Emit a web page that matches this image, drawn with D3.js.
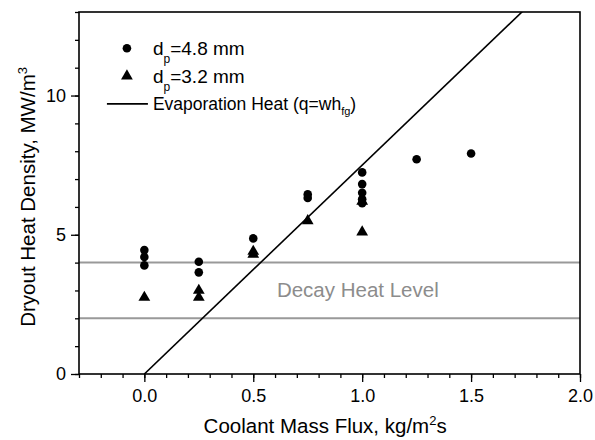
<!DOCTYPE html>
<html>
<head>
<meta charset="utf-8">
<script src="https://cdn.jsdelivr.net/npm/d3@7"></script>
<style>
  body { margin: 0; background: #fff; }
  svg { display: block; font-family: "Liberation Sans", Arial, sans-serif; }
</style>
</head>
<body>
<div id="chart"></div>
<script>
// Data
const flux48 = [0, 0, 0, 0.25, 0.25, 0.5, 0.75, 0.75, 1.0, 1.0, 1.0, 1.0, 1.0, 1.25, 1.5];
const heat48 = [4.45, 4.2, 3.9, 4.03, 3.65, 4.87, 6.45, 6.32, 7.24, 6.82, 6.51, 6.28, 6.13, 7.71, 7.92];
const flux32 = [0, 0.25, 0.25, 0.5, 0.5, 0.75, 1.0, 1.0];
const heat32 = [2.75, 3.0, 2.75, 4.4, 4.3, 5.5, 5.1, 6.2];
const evapFlux = [0, 2.0];
const evapHeat = [0, 15.0];
const decayLevels = [2, 4];
const xTicks = [0.0, 0.5, 1.0, 1.5, 2.0];
const yTicks = [0, 5, 10];

const width = 595, height = 440;
const margin = { top: 12, right: 15, bottom: 66, left: 79 };
const innerW = width - margin.left - margin.right;
const innerH = height - margin.top - margin.bottom;

const svg = d3.select('#chart').append('svg')
    .attr('width', width)
    .attr('height', height);

const g = svg.append('g')
    .attr('transform', `translate(${margin.left},${margin.top})`);

const x = d3.scaleLinear().domain([-0.3, 2.0]).range([0, innerW]);
const y = d3.scaleLinear().domain([0, 13]).range([innerH, 0]);

// clip for lines
g.append('clipPath').attr('id', 'clip')
    .append('rect').attr('width', innerW).attr('height', innerH);

// decay heat band lines
g.selectAll('.decay')
    .data(decayLevels)
    .enter()
    .append('line')
    .attr('class', 'decay')
    .attr('x1', 0).attr('x2', innerW)
    .attr('y1', d => y(d)).attr('y2', d => y(d))
    .attr('stroke', '#999')
    .attr('stroke-width', 2);

g.append('text')
    .attr('x', x(0.98))
    .attr('y', y(3.02))
    .attr('dy', '0.35em')
    .attr('text-anchor', 'middle')
    .attr('fill', '#8c8c8c')
    .attr('font-size', 20.5)
    .text('Decay Heat Level');

// evaporation line
const evap = evapFlux.map((f, i) => [f, evapHeat[i]]);
g.append('path')
    .datum(evap)
    .attr('clip-path', 'url(#clip)')
    .attr('d', d3.line().x(d => x(d[0])).y(d => y(d[1])))
    .attr('stroke', '#000')
    .attr('stroke-width', 1.6)
    .attr('fill', 'none');

// axes: minor ticks
const xMinor = d3.range(-3, 21).map(i => i / 10);
const yMinor = d3.range(0, 14);

g.append('g')
    .attr('transform', `translate(0,${innerH})`)
    .call(d3.axisBottom(x).tickValues(xMinor).tickSize(4).tickFormat(''))
    .call(a => a.select('.domain').remove());

g.append('g')
    .call(d3.axisLeft(y).tickValues(yMinor).tickSize(4).tickFormat(''))
    .call(a => a.select('.domain').remove());

const xAxis = g.append('g')
    .attr('transform', `translate(0,${innerH})`)
    .call(d3.axisBottom(x).tickValues(xTicks).tickSize(8).tickPadding(7).tickFormat(d3.format('.1f')));
xAxis.select('.domain').remove();

const yAxis = g.append('g')
    .call(d3.axisLeft(y).tickValues(yTicks).tickSize(8).tickPadding(5).tickFormat(d3.format('d')));
yAxis.select('.domain').remove();

svg.selectAll('.tick line').attr('stroke', '#000').attr('stroke-width', 1.3);
svg.selectAll('.tick text').attr('font-size', 18).attr('fill', '#000')
    .attr('font-family', '"Liberation Sans", Arial, sans-serif');

// frame
g.append('rect')
    .attr('width', innerW).attr('height', innerH)
    .attr('fill', 'none')
    .attr('stroke', '#000')
    .attr('stroke-width', 1.6);

// data points
const pts48 = flux48.map((f, i) => ({ f, h: heat48[i] }));
const pts32 = flux32.map((f, i) => ({ f, h: heat32[i] }));

const triangle = d3.symbol().type(d3.symbolTriangle).size(60);

g.selectAll('.tri')
    .data(pts32)
    .enter()
    .append('path')
    .attr('class', 'tri')
    .attr('transform', d => `translate(${x(d.f)},${y(d.h)})`)
    .attr('d', triangle)
    .attr('fill', '#000');

g.selectAll('.dot')
    .data(pts48)
    .enter()
    .append('circle')
    .attr('class', 'dot')
    .attr('cx', d => x(d.f))
    .attr('cy', d => y(d.h))
    .attr('r', 4.3)
    .attr('fill', '#000');

// legend
const ly1 = 0, ly2 = y(10.7) - y(11.7), ly3 = y(9.7) - y(11.7);
const legend = g.append('g').attr('transform', `translate(${x(-0.08)},${y(11.7)})`);
legend.append('circle').attr('cx', 0).attr('cy', ly1).attr('r', 4.3).attr('fill', '#000');
const t1 = legend.append('text').attr('x', 26).attr('y', ly1).attr('dy', '0.35em').attr('font-size', 19);
t1.append('tspan').text('d');
t1.append('tspan').attr('font-size', 12).attr('dy', 8).text('p');
t1.append('tspan').attr('dy', -8).text('=4.8 mm');

legend.append('path')
    .attr('transform', `translate(0,${ly2})`)
    .attr('d', triangle).attr('fill', '#000');
const t2 = legend.append('text').attr('x', 26).attr('y', ly2).attr('dy', '0.35em').attr('font-size', 19);
t2.append('tspan').text('d');
t2.append('tspan').attr('font-size', 12).attr('dy', 8).text('p');
t2.append('tspan').attr('dy', -8).text('=3.2 mm');

legend.append('line')
    .attr('x1', -20).attr('x2', 21)
    .attr('y1', ly3).attr('y2', ly3)
    .attr('stroke', '#000').attr('stroke-width', 1.6);
const t3 = legend.append('text').attr('x', 26).attr('y', ly3).attr('dy', '0.35em').attr('font-size', 17.5);
t3.append('tspan').text('Evaporation Heat (q=wh');
t3.append('tspan').attr('font-size', 11).attr('dy', 5).text('fg');
t3.append('tspan').attr('dy', -5).text(')');

// axis titles
const xt = svg.append('text')
    .attr('x', margin.left + x(0.83))
    .attr('y', 433)
    .attr('text-anchor', 'middle')
    .attr('font-size', 20.5);
xt.append('tspan').text('Coolant Mass Flux, kg/m');
xt.append('tspan').attr('font-size', 13).attr('dy', -8).text('2');
xt.append('tspan').attr('dy', 8).text('s');

const yt = svg.append('text')
    .attr('transform', `translate(35,${margin.top + y(6.36)}) rotate(-90)`)
    .attr('text-anchor', 'middle')
    .attr('font-size', 20.5);
yt.append('tspan').text('Dryout Heat Density, MW/m');
yt.append('tspan').attr('font-size', 13).attr('dy', -8).text('3');
</script>
</body>
</html>
